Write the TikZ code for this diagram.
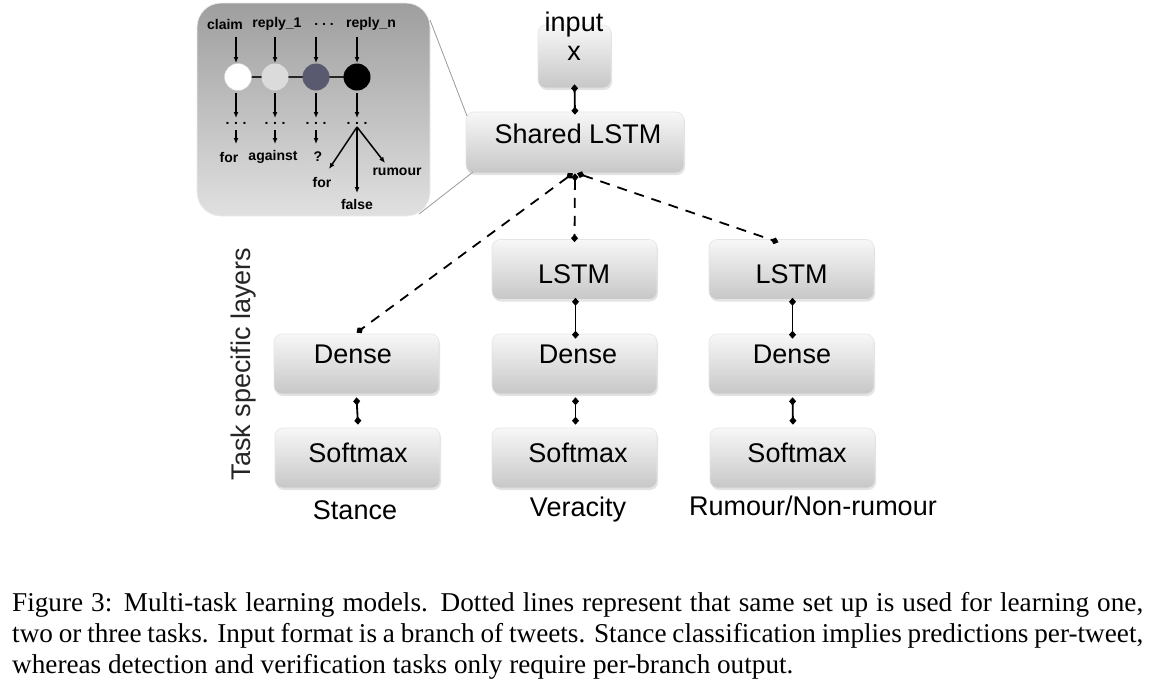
\documentclass[tikz,border=0pt]{standalone}
\usepackage{fontspec}
\setmainfont{Liberation Serif}
\setsansfont{Liberation Sans}
\usetikzlibrary{arrows.meta,shadows}
\begin{document}
\begin{tikzpicture}[x=1pt,y=-1pt,
  blk/.style={rounded corners=8pt, draw=black!10, line width=0.6pt, top color=black!3, bottom color=black!22,
    minimum width=165pt, minimum height=60pt, inner sep=0pt,
    drop shadow={opacity=0.22, shadow xshift=1pt, shadow yshift=-2pt}},
  lbl/.style={font=\sffamily\fontsize{27}{27}\selectfont, inner sep=0pt, anchor=base},
  conn/.style={line width=1.8pt, {Diamond[length=8pt,width=7pt]}-{Diamond[length=8pt,width=7pt]}},
  dconn/.style={conn, dash pattern=on 10pt off 8pt},
  ins/.style={font=\sffamily\bfseries\fontsize{14}{14}\selectfont, inner sep=0pt},
  iarr/.style={line width=1.5pt, -{Latex[length=6pt,width=5pt]}},
  zoomln/.style={draw=black!40, line width=0.8pt}
]
\useasboundingbox (0,0) rectangle (1153,686);

% ---------- inset ----------
\node[draw=black!8, line width=0.8pt, rounded corners=24pt, top color=black!38, bottom color=black!12,
  minimum width=233pt, minimum height=213pt, inner sep=0pt] (inset) at (313.5,109.5) {};

\node[ins] (tclaim) at (225,24) {claim};
\node[ins] (treply1) at (277,24) {reply\_1};
\node[ins] (tdots) at (324,24) {.\ .\ .};
\node[ins] (treplyn) at (371,24) {reply\_n};

\coordinate (a1) at (236,37);
\coordinate (a2) at (275,37);
\coordinate (a3) at (316,37);
\coordinate (a4) at (357,37);

\node[circle, minimum size=27pt, inner sep=0pt] (c1) at (238,77) {};
\node[circle, minimum size=27pt, inner sep=0pt] (c2) at (275,77) {};
\node[circle, minimum size=27pt, inner sep=0pt] (c3) at (316,77) {};
\node[circle, minimum size=27pt, inner sep=0pt] (c4) at (357,77) {};
\draw[line width=1.4pt, black!85] (c1.center) -- (c4.center);
\fill[white, draw=black!15] (c1) circle (13.5pt);
\fill[black!14] (c2) circle (13.5pt);
\fill[black!70!blue!30!gray] (c3) circle (13.5pt);
\fill[black] (c4) circle (13.5pt);

\draw[iarr] (a1) -- (a1 |- 0,63);
\draw[iarr] (a2) -- (a2 |- 0,63);
\draw[iarr] (a3) -- (a3 |- 0,63);
\draw[iarr] (a4) -- (a4 |- 0,63);

\foreach \x [count=\i] in {236,275,316,357} {
  \coordinate (b\i) at (\x,93);
  \node[ins] (d\i) at (\x,123) {.\,\,.\,\,.};
}
\draw[iarr] (b1) -- (b1 |- 0,118);
\draw[iarr] (b2) -- (b2 |- 0,118);
\draw[iarr] (b3) -- (b3 |- 0,118);
\draw[iarr] (b4) -- (b4 |- 0,118);

\node[ins] (lfor1) at (229,157) {for};
\node[ins] (lagainst) at (273,157) {against};
\node[ins] (lq) at (318,157) {?};
\draw[iarr] (236,130) -- (236,144);
\draw[iarr] (275,130) -- (275,144);
\draw[iarr] (316,130) -- (316,144);

\coordinate (fork) at (357,127);
\node[ins] (lfor2) at (322,182) {for};
\node[ins] (lfalse) at (357,204) {false};
\node[ins] (lrumour) at (397,172) {rumour};
\draw[iarr] (fork) -- (329,169);
\draw[iarr] (fork) -- (357,193);
\draw[iarr] (fork) -- (385,163);

% ---------- main blocks ----------
\node[blk, minimum width=73pt, minimum height=63pt, drop shadow={opacity=0}] (inp) at (574.5,56.5) {};
\node[lbl] (tinput) at (574,31) {input};
\node[lbl] (tx) at (574,60) {x};

\node[blk, minimum width=218pt, minimum height=61pt] (shr) at (575,142.5) {};
\node[lbl] (tshr) at (578,143) {Shared LSTM};

\node[blk] (vlstm) at (574.5,269.5) {};
\node[blk] (rlstm) at (791.5,269.5) {};
\node[lbl] (tvlstm) at (574,283) {LSTM};
\node[lbl] (trlstm) at (791.5,283) {LSTM};

\node[blk] (sdense) at (356.5,364) {};
\node[blk] (vdense) at (574.5,364) {};
\node[blk] (rdense) at (791.5,364) {};
\node[lbl] (tsdense) at (353,363) {Dense};
\node[lbl] (tvdense) at (578,363) {Dense};
\node[lbl] (trdense) at (792,363) {Dense};

\node[blk] (ssoft) at (357.5,458) {};
\node[blk] (vsoft) at (574.5,458) {};
\node[blk] (rsoft) at (792.5,458) {};
\node[lbl] (tssoft) at (358,462) {Softmax};
\node[lbl] (tvsoft) at (578,462) {Softmax};
\node[lbl] (trsoft) at (797,462) {Softmax};

\node[lbl] (lstance) at (355,519) {Stance};
\node[lbl] (lver) at (578,516) {Veracity};
\node[lbl] (lrum) at (813,515) {Rumour/Non-rumour};

\node[lbl, rotate=90, text=black!85] (ltask) at (250,364) {Task specific layers};

% zoom lines
\draw[zoomln] (430,20) -- (467,116);
\draw[zoomln] (419,214) -- (473,172);

% ---------- connectors ----------
\draw[conn] ([yshift=4pt]inp.south) -- ([yshift=-3pt]shr.north);
\draw[dconn] ([xshift=-2pt]shr.south) -- ([yshift=1pt]sdense.north);
\draw[dconn] (shr.south) -- ([yshift=-3pt]vlstm.north);
\draw[dconn] ([xshift=2pt]shr.south) -- ([xshift=-13pt,yshift=-3pt]rlstm.north);

\draw[conn] ([xshift=1pt,yshift=2pt]vlstm.south) -- ([xshift=1pt,yshift=-5pt]vdense.north);
\draw[conn] ([xshift=1pt,yshift=2pt]rlstm.south) -- ([xshift=1pt,yshift=-5pt]rdense.north);
\draw[conn] ([yshift=-3pt]sdense.south) -- ([xshift=0.5pt,yshift=3pt]ssoft.north);
\draw[conn] ([xshift=1pt,yshift=-3pt]vdense.south) -- ([xshift=1pt,yshift=3pt]vsoft.north);
\draw[conn] ([xshift=1pt,yshift=-3pt]rdense.south) -- ([xshift=0.5pt,yshift=3pt]rsoft.north);

% ---------- caption ----------
\node[anchor=north west, text width=1131pt, align=justify, inner sep=0pt,
  font=\rmfamily\fontsize{27.2}{31}\selectfont] (cap) at (12,592)
{Figure 3: Multi-task learning models. Dotted lines represent that same set up is used for learning one,\linebreak
two or three tasks. Input format is a branch of tweets. Stance classification implies predictions per-tweet,\linebreak
whereas detection and verification tasks only require per-branch output.};
\end{tikzpicture}
\end{document}
